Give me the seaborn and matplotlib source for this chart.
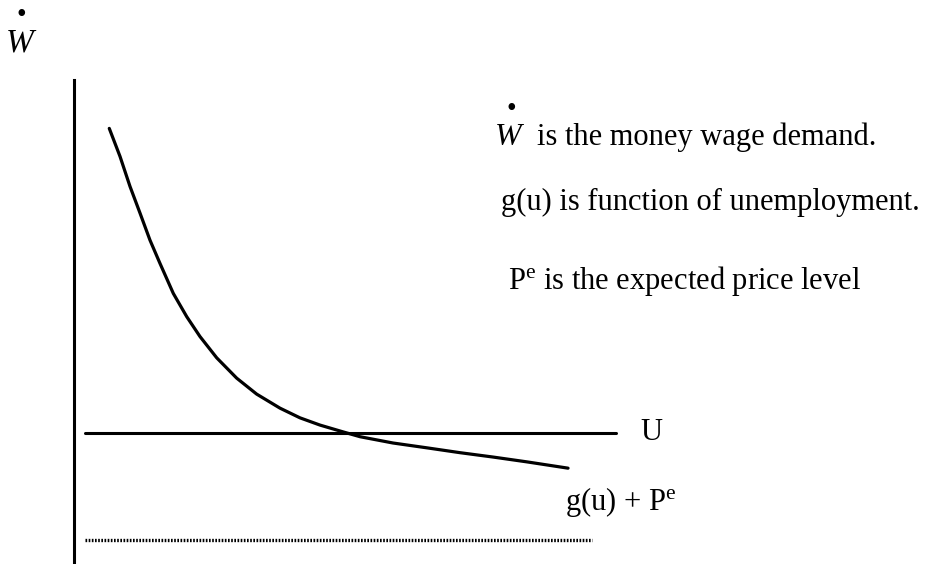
import pandas as pd
import matplotlib
matplotlib.use("Agg")
import matplotlib.pyplot as plt
import seaborn as sns

# wage demand curve g(u) + Pe (0-100 scale both ways)
curve_u = [4.13, 5.39, 6.56, 7.73, 8.90, 10.07, 11.63, 13.20, 14.75, 16.71,
           19.05, 21.39, 24.12, 26.46, 28.81, 31.50, 33.49, 37.35, 41.33,
           45.20, 49.06, 53.04, 57.85]
curve_w = [90.0, 84.2, 78.0, 72.5, 66.9, 62.1, 55.9, 51.1, 47.0, 42.6,
           38.4, 35.1, 32.2, 30.2, 28.7, 27.3, 26.3, 25.0, 24.0,
           23.0, 22.1, 21.1, 19.8]

# horizontal line U
u_line_x = [1.3, 63.5]
u_line_y = [27.1, 27.1]

# dotted line near the bottom
dot_line_x = [1.3, 60.7]
dot_line_y = [5.0, 5.0]

notes = ["is the money wage demand.",
         "g(u) is function of unemployment.",
         "P$^{\\mathrm{e}}$ is the expected price level"]

sns.set_theme(style="white")
plt.rcParams["font.family"] = ["Liberation Serif", "DejaVu Serif"]
plt.rcParams["mathtext.fontset"] = "custom"
plt.rcParams["mathtext.rm"] = "Liberation Serif"
plt.rcParams["mathtext.it"] = "Liberation Serif:italic"

W, H = 928, 564
fig = plt.figure(figsize=(9.28, 5.64), dpi=100)
ax = fig.add_axes([74 / W, 0, (W - 74) / W, (H - 80) / H])

df_curve = pd.DataFrame({"u": curve_u, "w": curve_w})
sns.lineplot(data=df_curve, x="u", y="w", ax=ax, color="black", lw=2.3,
             sort=False, solid_joinstyle="round")
sns.lineplot(x=u_line_x, y=u_line_y, ax=ax, color="black", lw=2.2)
sns.lineplot(x=dot_line_x, y=dot_line_y, ax=ax, color="black", lw=2.4,
             linestyle=(0, (0.5, 0.45)))

ax.set_xlim(0, 100)
ax.set_ylim(0, 100)
ax.set_xlabel("")
ax.set_ylabel("")
ax.set_xticks([])
ax.set_yticks([])
for s in ["top", "right", "bottom"]:
    ax.spines[s].set_visible(False)
ax.spines["left"].set_color("black")
ax.spines["left"].set_linewidth(2.2)

ax.text(66.3, 27.1, "U", fontsize=22, va="center", ha="left", color="black")
ax.text(57.5, 11.2, "g(u) + P$^{\\mathrm{e}}$", fontsize=22, va="baseline",
        ha="left", color="black")


def fx(px):
    return px / W


def fy(py):
    return 1 - py / H


# axis label W-dot, top left
fig.text(fx(20), fy(52), "W", fontsize=24, style="italic", ha="center",
         va="baseline", color="black")
fig.text(fx(21), fy(15), "\u2022", fontsize=20, ha="center", va="center",
         color="black")

# notes on the right
fig.text(fx(508), fy(145), "W", fontsize=23, style="italic", ha="center",
         va="baseline", color="black")
fig.text(fx(511), fy(109), "\u2022", fontsize=20, ha="center", va="center",
         color="black")
fig.text(fx(537), fy(145), notes[0], fontsize=22, va="baseline", color="black")
fig.text(fx(501), fy(210), notes[1], fontsize=22, va="baseline", color="black")
fig.text(fx(508), fy(289), notes[2], fontsize=22, va="baseline", color="black")

fig.savefig("out.png", dpi=100, facecolor="white")
